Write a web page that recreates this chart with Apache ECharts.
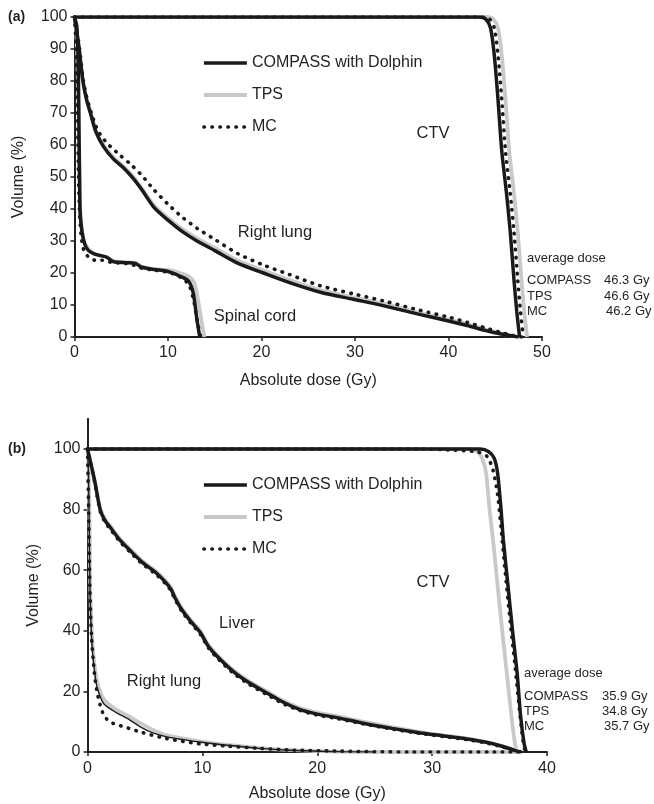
<!DOCTYPE html>
<html>
<head>
    <meta charset="utf-8">
    <title>DVH comparison</title>
    <script src="https://cdn.jsdelivr.net/npm/echarts@6/dist/echarts.min.js"></script>
    <style>
        html, body { margin: 0; padding: 0; background: #fff; }
        #main { width: 654px; height: 804px; }
    </style>
</head>
<body>
<div id="main"></div>
<script type="text/javascript">
    // ---- (a) dose / volume points [Gy, %] ----
    var ctvA_tps = [[0,100],[44.1,100],[44.8,99.3],[45.3,96.5],[45.7,88],[46.1,74],[46.5,58],[47.0,45],[47.4,33],[47.8,18],[48.1,8],[48.4,0]];
    var ctvA_compass = [[0,100],[43.3,100],[44.0,99.3],[44.5,96.5],[44.9,88],[45.3,74],[45.7,58],[46.2,45],[46.6,33],[47.0,18],[47.3,8],[47.6,0]];
    var ctvA_mc = [[0,100],[43.7,100],[44.4,99.3],[44.9,96.5],[45.3,88],[45.7,74],[46.1,58],[46.6,45],[47.0,33],[47.4,18],[47.7,8],[48.0,0]];

    var lungA_tps = [[0,100],[0.15,97],[0.5,90],[0.9,80],[1.3,74.5],[1.7,70.5],[2.3,64.5],[3.1,60],[4.2,56],[5.2,53.5],[6.3,50],[7.2,46.5],[8.5,41.2],[10,37.2],[11.5,33.8],[13.1,30.8],[15,27.8],[17.5,23.8],[20.2,20.8],[23,17.8],[26.3,14.7],[29.8,12.4],[33,10.4],[37,7.5],[40,5.4],[42,4],[44,2.3],[45.5,1.2],[47,0.3],[47.6,0]];
    var lungA_compass = [[0,100],[0.15,97],[0.5,90],[0.9,80],[1.3,74],[1.7,70],[2.3,64],[3.1,59.5],[4.2,55.5],[5.2,53],[6.3,49.5],[7.2,46],[8.5,40.5],[10,36.5],[11.5,33],[13.1,30],[15,27],[17.5,23],[20.2,20],[23,17],[26.3,14],[29.8,11.8],[33,9.8],[37,7],[40,5],[42,3.6],[44,2],[45.5,1],[47,0.2],[47.5,0]];
    var lungA_mc = [[0,100],[0.15,97.5],[0.5,91],[0.9,81],[1.3,75],[1.8,70],[2.5,64.5],[3.5,60.5],[4.8,57],[6,54],[7.2,50.5],[8.5,46],[10,41.5],[11.5,37.5],[13.1,34],[15,30.5],[17.5,26],[20.2,22.5],[23,19.5],[26.3,16],[29.8,13.5],[33,11.3],[37,8.3],[40,6.2],[42,4.6],[44,2.8],[45.5,1.5],[47,0.4],[47.8,0]];

    var cordA_tps = [[0,100],[0.2,95],[0.35,82],[0.45,60],[0.55,45],[0.7,36],[1,30],[1.5,27.5],[2.1,26],[2.7,25.5],[3.4,25],[4.2,23.7],[5.6,23.3],[6.5,23.2],[7.2,22],[8.3,21.3],[9.5,21],[10.3,20.8],[11.3,20],[12.2,19],[12.8,17],[13.3,10],[13.7,3],[13.9,0]];
    var cordA_compass = [[0,100],[0.25,97],[0.4,85],[0.5,60],[0.55,49],[0.6,39],[0.8,33],[1.1,29],[1.5,27],[2.1,26],[2.7,25.5],[3.4,25],[4.2,23.5],[5.6,23.2],[6.5,23],[7.2,21.8],[8.3,21.2],[9.5,20.8],[10.3,20.2],[11.3,19],[12.2,17.5],[12.7,13.7],[13.1,5.3],[13.4,0]];
    var cordA_mc = [[0,100],[0.15,92],[0.3,75],[0.4,55],[0.5,42],[0.7,32],[1,27],[1.5,25],[2.2,24],[3,24],[4,23.3],[5.5,23],[6.5,22.3],[7.2,21.5],[8.3,21],[9.5,20.5],[10.3,20],[11.3,18.7],[12.2,16.5],[12.7,12],[13.2,4],[13.5,0]];

    // ---- (b) dose / volume points [Gy, %] ----
    var ctvB_tps = [[0,100],[33.3,100],[34.0,99],[34.4,96.5],[34.7,92],[35.0,80],[35.3,70],[35.7,55],[36.1,40],[36.5,26],[36.9,12],[37.2,3],[37.4,0]];
    var ctvB_compass = [[0,100],[34.2,100],[34.9,99.2],[35.4,97],[35.7,92],[36.0,80],[36.2,70],[36.6,55],[37.0,40],[37.4,26],[37.7,12],[38.0,3],[38.2,0]];
    var ctvB_mc = [[0,100],[29,100],[32,99.6],[34,99],[34.8,97.5],[35.3,93],[35.7,85],[36.0,74],[36.4,58],[36.8,43],[37.2,29],[37.6,14],[37.9,4],[38.1,0]];

    var liverB_tps = [[0,100],[0.3,95],[0.65,89],[1.1,80.5],[1.5,77],[2.0,74.5],[2.8,70.5],[3.7,67],[4.8,63],[6.0,59.5],[6.8,56.5],[7.3,54],[7.6,51.5],[8.2,47.5],[9.0,43.5],[9.8,40],[10.5,35.5],[11.3,32],[12.7,27],[14,23.5],[15.6,20],[17,17],[18.5,14.5],[20,13],[21.5,12],[24,10],[26.5,8.2],[29,6.6],[31,5.5],[33,4.5],[34.7,3.3],[36,2],[37,0.8],[37.5,0]];
    var liverB_compass = [[0,100],[0.3,95],[0.65,89],[1.1,80],[1.5,76.5],[2.0,74],[2.8,70],[3.7,66.5],[4.8,62.5],[6.0,59],[6.8,56],[7.3,53.5],[7.6,51],[8.2,47],[9.0,43],[9.8,39.5],[10.5,35],[11.3,31.5],[12.7,26.5],[14,23],[15.6,19.5],[17,16.5],[18.5,14],[20,12.5],[21.5,11.5],[24,9.5],[26.5,7.8],[29,6.3],[31,5.3],[33,4.3],[34.7,3.2],[36,2],[37,0.8],[37.6,0]];
    var liverB_mc = [[0,100],[0.3,95],[0.65,88.5],[1.1,79.5],[1.5,76],[2.0,73.5],[2.8,69.5],[3.7,66],[4.8,62],[6.0,58.5],[6.8,55.5],[7.3,53],[7.6,50.5],[8.2,46.5],[9.0,42.5],[9.8,39],[10.5,34.5],[11.3,31],[12.7,26],[14,22.5],[15.6,19],[17,16],[18.5,13.7],[20,12.2],[21.5,11.2],[24,9.3],[26.5,7.6],[29,6.1],[31,5.1],[33,4.1],[34.7,3],[36,1.8],[37,0.7],[37.8,0]];

    var lungB_tps = [[0,100],[0.1,92],[0.18,75],[0.25,53],[0.45,35],[0.75,25],[1,21],[1.5,17],[2.5,14],[3.5,12],[4.6,9.5],[5.7,7.3],[6.9,5.5],[8.5,4.3],[9.8,3.5],[12,2.4],[15,1.3],[18,0.6],[22,0.1],[25,0],[37.5,0]];
    var lungB_compass = [[0,100],[0.08,92],[0.15,75],[0.22,53],[0.4,35],[0.7,24],[0.9,20.5],[1.4,16],[2.5,13],[3.5,11],[4.6,8.3],[5.7,6.3],[6.9,5],[8.5,4],[9.8,3.3],[12,2.3],[15,1.2],[18,0.5],[22,0.1],[25,0]];
    var lungB_mc = [[0,100],[0.05,90],[0.12,75],[0.2,55],[0.35,38],[0.6,26],[0.8,20.5],[1.1,15.5],[1.5,11.6],[2.2,9.5],[3.2,8.3],[4.6,6.6],[6.9,4.4],[9.8,2.7],[12,2],[15,1.2],[18,0.6],[22,0.3],[25,0.1],[28,0],[38,0]];

    var yTicksB = [0, 20, 40, 60, 80, 100];

    var ink = '#231f20';
    var font = 'Liberation Sans, Arial, sans-serif';
    var styleCompass = {color: '#1a1a1a', width: 3.5};
    var styleTps = {color: '#c9c9c9', width: 3.8};
    var styleMc = {color: '#1a1a1a', width: 3.6, type: [0.5, 7.5], cap: 'round'};

    function tpsLine(data, xi) {
        return {
            name: 'TPS', type: 'line', data: data, xAxisIndex: xi, yAxisIndex: xi,
            symbol: 'none', smooth: 0.25, z: 2,
            itemStyle: {color: '#c9c9c9'},
            lineStyle: styleTps
        };
    }
    function compassLine(data, xi, w) {
        return {
            name: 'COMPASS with Dolphin', type: 'line', data: data, xAxisIndex: xi, yAxisIndex: xi,
            symbol: 'none', smooth: 0.25, z: 3,
            itemStyle: {color: '#1a1a1a'},
            lineStyle: {color: '#1a1a1a', width: w || 3.5}
        };
    }
    function mcLine(data, xi) {
        return {
            name: 'MC', type: 'line', data: data, xAxisIndex: xi, yAxisIndex: xi,
            symbol: 'none', smooth: 0.25, z: 4,
            itemStyle: {color: '#1a1a1a'},
            lineStyle: styleMc
        };
    }

    function axisCommon() {
        return {
            type: 'value',
            splitLine: {show: false},
            axisLine: {show: true, onZero: false, lineStyle: {color: ink, width: 2}},
            axisTick: {show: true, inside: false, length: 4, lineStyle: {color: ink, width: 1.5}},
            axisLabel: {color: ink, fontSize: 16, fontFamily: font},
            nameTextStyle: {color: ink, fontSize: 16, fontFamily: font}
        };
    }

    var xA = axisCommon();
    Object.assign(xA, {gridIndex: 0, min: 0, max: 50, interval: 10, name: 'Absolute dose (Gy)',
        nameLocation: 'middle', nameGap: 36});
    xA.axisLabel.margin = 8;
    var yA = axisCommon();
    Object.assign(yA, {gridIndex: 0, min: 0, max: 100, interval: 10, name: 'Volume (%)',
        nameLocation: 'middle', nameGap: 48});
    yA.axisLabel.margin = 7;

    var xB = axisCommon();
    Object.assign(xB, {gridIndex: 1, min: 0, max: 40, interval: 10, name: 'Absolute dose (Gy)',
        nameLocation: 'middle', nameGap: 34});
    xB.axisLabel.margin = 9;
    var yB = axisCommon();
    Object.assign(yB, {gridIndex: 1, min: 0, max: 110, interval: 10, name: 'Volume (%)',
        nameLocation: 'middle', nameGap: 46});
    yB.axisLabel.customValues = yTicksB;
    yB.axisLabel.margin = 7;
    yB.axisTick.customValues = yTicksB;

    function legendAt(top) {
        var hide = {opacity: 0};
        return {
            data: [
                {name: 'COMPASS with Dolphin', lineStyle: styleCompass, itemStyle: hide},
                {name: 'TPS', lineStyle: styleTps, itemStyle: hide},
                {name: 'MC', lineStyle: styleMc, itemStyle: hide}
            ],
            orient: 'vertical', left: 197, top: top,
            itemWidth: 43, itemHeight: 14, itemGap: 16, itemTextGap: 4,
            selectedMode: false,
            textStyle: {color: ink, fontSize: 16, fontFamily: font, lineHeight: 16}
        };
    }

    function txt(x, y, s, size, align) {
        return {
            type: 'text', x: x, y: y, silent: true,
            style: {text: s, fill: ink, font: size + 'px ' + font, textAlign: align || 'left', textVerticalAlign: 'middle'}
        };
    }

    var myChart = echarts.init(document.getElementById('main'), null, {renderer: 'canvas'});

    var option = {
        animation: false,
        backgroundColor: '#fff',
        grid: [
            {left: 74.5, top: 17, width: 467.5, height: 320},
            {left: 87.5, top: 418.7, width: 459.5, height: 333.3}
        ],
        xAxis: [xA, xB],
        yAxis: [yA, yB],
        legend: [legendAt(50), legendAt(472)],
        graphic: [
            {type: 'text', x: 8, y: 17, style: {text: '(a)', fill: ink, font: 'bold 14px ' + font, textVerticalAlign: 'middle'}},
            {type: 'text', x: 8, y: 449, style: {text: '(b)', fill: ink, font: 'bold 14px ' + font, textVerticalAlign: 'middle'}},
            txt(433, 133, 'CTV', 16.5, 'center'),
            txt(275, 232, 'Right lung', 16.5, 'center'),
            txt(255, 316, 'Spinal cord', 16.5, 'center'),
            txt(527, 258, 'average dose', 13),
            txt(527, 280, 'COMPASS', 13), txt(604, 280, '46.3 Gy', 13),
            txt(527, 296, 'TPS', 13), txt(604, 296, '46.6 Gy', 13),
            txt(527, 311, 'MC', 13), txt(606, 311, '46.2 Gy', 13),
            txt(433, 582, 'CTV', 16.5, 'center'),
            txt(237, 623, 'Liver', 16.5, 'center'),
            txt(164, 681, 'Right lung', 16.5, 'center'),
            txt(524, 673, 'average dose', 13),
            txt(524, 696, 'COMPASS', 13), txt(602, 696, '35.9 Gy', 13),
            txt(524, 711, 'TPS', 13), txt(602, 711, '34.8 Gy', 13),
            txt(524, 726, 'MC', 13), txt(604, 726, '35.7 Gy', 13)
        ],
        series: [
            compassLine(ctvA_compass, 0),
            tpsLine(ctvA_tps, 0),
            mcLine(ctvA_mc, 0),
            tpsLine(lungA_tps, 0),
            compassLine(lungA_compass, 0),
            mcLine(lungA_mc, 0),
            tpsLine(cordA_tps, 0),
            compassLine(cordA_compass, 0),
            mcLine(cordA_mc, 0),

            tpsLine(ctvB_tps, 1),
            compassLine(ctvB_compass, 1),
            mcLine(ctvB_mc, 1),
            tpsLine(liverB_tps, 1),
            compassLine(liverB_compass, 1),
            mcLine(liverB_mc, 1),
            tpsLine(lungB_tps, 1),
            compassLine(lungB_compass, 1, 1.4),
            mcLine(lungB_mc, 1)
        ]
    };

    myChart.setOption(option);
</script>
</body>
</html>
